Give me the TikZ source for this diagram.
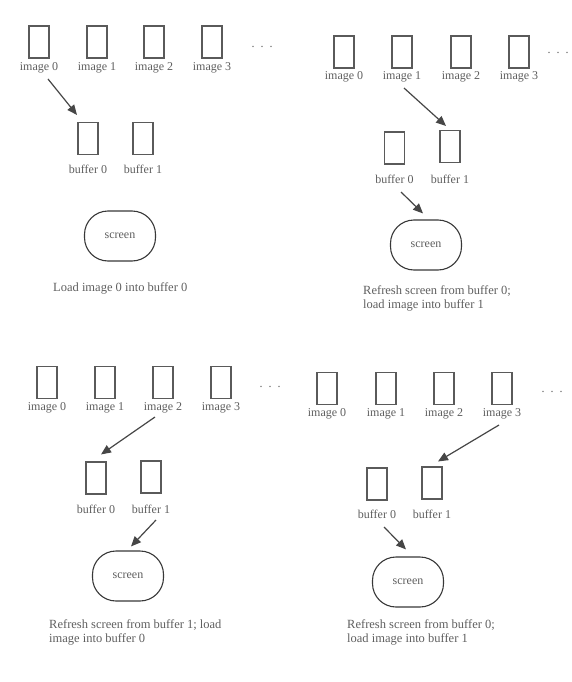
\documentclass[tikz,border=0pt]{standalone}
\usepackage{fontspec}
\setmainfont{Liberation Serif}
\usetikzlibrary{arrows.meta,calc}
\definecolor{txtgray}{HTML}{5E5E5E}
\definecolor{boxgray}{HTML}{5A5A5A}
\definecolor{arrgray}{HTML}{464646}
\definecolor{scrgray}{HTML}{383838}
\begin{document}
\begin{tikzpicture}[x=1pt,y=-1pt,
  imgbox/.style={draw=boxgray,line width=1.1pt,minimum width=20pt,minimum height=32pt,inner sep=0pt},
  lbl/.style={font=\fontsize{12}{13}\selectfont,text=txtgray,inner sep=0pt},
  dotsrow/.style={font=\fontsize{12}{13}\selectfont,text=txtgray,inner sep=0pt},
  scr/.style={draw=scrgray,line width=1.1pt,rounded corners=23.5pt,minimum width=71pt,minimum height=50pt,inner sep=0pt,font=\fontsize{12}{13}\selectfont,text=txtgray},
  captxt/.style={font=\fontsize{12.5}{14}\selectfont,text=txtgray,inner sep=0pt,align=left,anchor=west},
  arr/.style={draw=arrgray,line width=1.2pt,-{Triangle[length=10pt,width=8.5pt]}}]
\useasboundingbox (0,0) rectangle (572,682);

% ---------- Panel 1 ----------
\node[imgbox] (a0) at (39,42) {};
\node[imgbox] (a1) at (97,42) {};
\node[imgbox] (a2) at (154,42) {};
\node[imgbox] (a3) at (212,42) {};
\node[lbl] (a0l) at (39,68) {image 0};
\node[lbl] (a1l) at (97,68) {image 1};
\node[lbl] (a2l) at (154,68) {image 2};
\node[lbl] (a3l) at (212,68) {image 3};
\node[dotsrow] (ad) at (262,47) {.\hspace{6pt}.\hspace{6pt}.};
\node[imgbox] (ab0) at (88,138.5) {};
\node[imgbox] (ab1) at (143,138.5) {};
\node[lbl] (ab0l) at (88,169) {buffer 0};
\node[lbl] (ab1l) at (143,169) {buffer 1};
\node[scr] (as) at (120,236) {screen};
\node[captxt] (ac) at (53,288) {Load image 0 into buffer 0};
\draw[arr] ($(a0l)+(9,11)$) -- ($(ab0.north)+(-11,-7)$);

% ---------- Panel 2 ----------
\node[imgbox] (b0) at (344,52) {};
\node[imgbox] (b1) at (402,52) {};
\node[imgbox] (b2) at (461,52) {};
\node[imgbox] (b3) at (519,52) {};
\node[lbl] (b0l) at (344,77) {image 0};
\node[lbl] (b1l) at (402,77) {image 1};
\node[lbl] (b2l) at (461,77) {image 2};
\node[lbl] (b3l) at (519,77) {image 3};
\node[dotsrow] (bd) at (558,53) {.\hspace{6pt}.\hspace{6pt}.};
\node[imgbox] (bb0) at (394.5,148) {};
\node[imgbox] (bb1) at (450,146.5) {};
\node[lbl] (bb0l) at (394.5,179) {buffer 0};
\node[lbl] (bb1l) at (450,179) {buffer 1};
\node[scr] (bs) at (426,245) {screen};
\node[captxt] (bc) at (363,298.5) {Refresh screen from buffer 0;\\load image into buffer 1};
\draw[arr] ($(b1l)+(2,11)$) -- ($(bb1.north)+(-4,-4)$);
\draw[arr] ($(bb0l)+(6.5,13)$) -- ($(bs.north)+(-3,-6)$);

% ---------- Panel 3 ----------
\node[imgbox] (c0) at (47,382.5) {};
\node[imgbox] (c1) at (105,382.5) {};
\node[imgbox] (c2) at (163,382.5) {};
\node[imgbox] (c3) at (221,382.5) {};
\node[lbl] (c0l) at (47,408) {image 0};
\node[lbl] (c1l) at (105,408) {image 1};
\node[lbl] (c2l) at (163,408) {image 2};
\node[lbl] (c3l) at (221,408) {image 3};
\node[dotsrow] (cd) at (270,387) {.\hspace{6pt}.\hspace{6pt}.};
\node[imgbox] (cb0) at (96,478) {};
\node[imgbox] (cb1) at (151,477) {};
\node[lbl] (cb0l) at (96,509) {buffer 0};
\node[lbl] (cb1l) at (151,509) {buffer 1};
\node[scr] (cs) at (128,576) {screen};
\node[captxt] (cc) at (49,632.5) {Refresh screen from buffer 1; load\\image into buffer 0};
\draw[arr] ($(c2l)+(-8,9)$) -- ($(cb0.north)+(5,-7)$);
\draw[arr] ($(cb1l)+(5,11)$) -- ($(cs.north)+(3,-4)$);

% ---------- Panel 4 ----------
\node[imgbox] (d0) at (327,388.5) {};
\node[imgbox] (d1) at (386,388.5) {};
\node[imgbox] (d2) at (444,388.5) {};
\node[imgbox] (d3) at (502,388.5) {};
\node[lbl] (d0l) at (327,414) {image 0};
\node[lbl] (d1l) at (386,414) {image 1};
\node[lbl] (d2l) at (444,414) {image 2};
\node[lbl] (d3l) at (502,414) {image 3};
\node[dotsrow] (dd) at (552,392) {.\hspace{6pt}.\hspace{6pt}.};
\node[imgbox] (db0) at (377,484) {};
\node[imgbox] (db1) at (432,483) {};
\node[lbl] (db0l) at (377,514) {buffer 0};
\node[lbl] (db1l) at (432,514) {buffer 1};
\node[scr] (ds) at (408,582) {screen};
\node[captxt] (dc) at (347,632.5) {Refresh screen from buffer 0;\\load image into buffer 1};
\draw[arr] ($(d3l)+(-3,11)$) -- ($(db1.north)+(6,-5)$);
\draw[arr] ($(db0l)+(7,13)$) -- ($(ds.north)+(-2,-7)$);
\end{tikzpicture}
\end{document}
